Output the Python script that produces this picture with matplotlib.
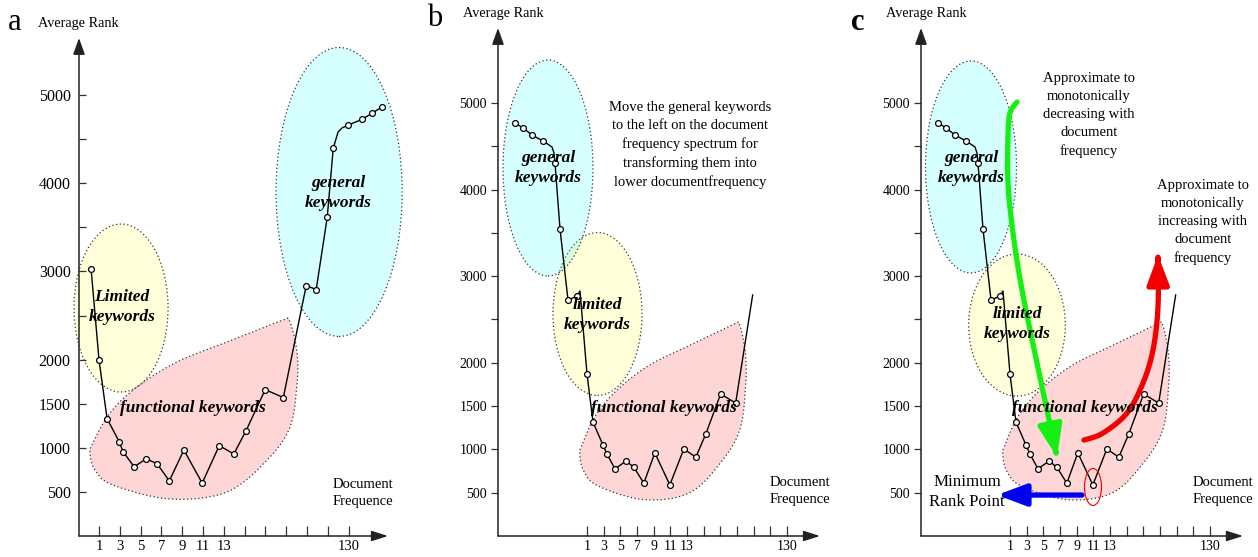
import matplotlib
matplotlib.use("Agg")
import matplotlib.pyplot as plt
import numpy as np
from matplotlib.patches import Ellipse, Polygon, FancyArrowPatch
from matplotlib.path import Path

plt.rcParams['font.family'] = ['Liberation Serif', 'DejaVu Serif']

# axis ticks
ytick_vals = [500, 1000, 1500, 2000, 2500, 3000, 3500, 4000, 4500, 5000]
ytick_labels = ['500', '1000', '1500', '2000', '', '3000', '', '4000', '', '5000']
xtick_pos = list(range(1, 14))
xtick_labels = ['1', '3', '5', '7', '9', '11', '13', '', '', '', '', '', '130']

# panel a: original curve (position on the frequency axis, average rank, marker?)
a_pos = [0.62, 1.0, 1.39, 1.97, 2.16, 2.69, 3.27, 3.79, 4.38, 5.08, 5.96, 6.78, 7.48,
         8.07, 8.99, 9.86, 10.96, 11.44, 11.97, 12.26, 12.49, 12.68, 12.98, 13.65, 14.13, 14.6]
a_rank = [3030, 2000, 1330, 1070, 955, 785, 875, 820, 625, 975, 600, 1025, 930,
          1195, 1660, 1570, 2840, 2795, 3615, 4400, 4580, 4627, 4660, 4725, 4795, 4865]
a_mark = [1, 1, 1, 1, 1, 1, 1, 1, 1, 1, 1, 1, 1,
          1, 1, 1, 1, 1, 1, 1, 0, 0, 1, 1, 1, 1]

# panels b and c: general keywords moved to the left
b_pos = [-3.31, -2.83, -2.29, -1.63, -1.10, -0.98, -0.92, -0.62, -0.14, 0.40, 0.58, 1.0, 1.36,
         1.96, 2.2, 2.68, 3.34, 3.81, 4.41, 5.07, 5.97, 6.81, 7.53, 8.13, 9.02, 9.92, 10.94]
b_rank = [4770, 4710, 4630, 4560, 4492, 4422, 4305, 3545, 2725, 2770, 2829, 1870, 1315,
          1050, 945, 775, 865, 795, 610, 960, 590, 1005, 910, 1180, 1640, 1535, 2783]
b_mark = [1, 1, 1, 1, 0, 0, 1, 1, 1, 1, 0, 1, 1,
          1, 1, 1, 1, 1, 1, 1, 1, 1, 1, 1, 1, 1, 0]

W, H = 1258, 557
fig = plt.figure(figsize=(W / 100, H / 100), dpi=100)


def catmull(xs, ys, n=14):
    p = np.column_stack([xs, ys]).astype(float)
    p = np.vstack([p[0], p, p[-1]])
    out = []
    t = np.linspace(0, 1, n, endpoint=False)[:, None]
    for i in range(1, len(p) - 2):
        p0, p1, p2, p3 = p[i - 1], p[i], p[i + 1], p[i + 2]
        out.append(0.5 * (2 * p1 + (p2 - p0) * t + (2 * p0 - 5 * p1 + 4 * p2 - p3) * t ** 2
                          + (3 * p1 - p0 - 3 * p2 + p3) * t ** 3))
    out.append(p[-2][None])
    return np.vstack(out)


def ftext(px, py, s, **kw):
    kw.setdefault('ha', 'center')
    kw.setdefault('va', 'center')
    fig.text(px / W, 1 - py / H, s, **kw)


def make_axes(left, right, top, bottom, xlim, ylim, ydir, ysize, xsize):
    ax = fig.add_axes([left / W, 1 - bottom / H, (right - left) / W, (bottom - top) / H])
    ax.set_xlim(*xlim)
    ax.set_ylim(*ylim)
    ax.set_facecolor('none')
    for s in ax.spines.values():
        s.set_visible(False)
    ax.set_yticks(ytick_vals)
    ax.set_yticklabels(ytick_labels, fontsize=ysize)
    ax.set_xticks(xtick_pos)
    ax.set_xticklabels(xtick_labels, fontsize=xsize)
    ax.tick_params(axis='y', direction=ydir, length=5, width=0.9, color='#333333',
                   pad=6 if ydir == 'in' else 3)
    ax.tick_params(axis='x', direction='in', length=7, width=0.9, color='#333333', pad=3)
    ax.annotate('', xy=(0, 1), xycoords='axes fraction', xytext=(0, 0),
                textcoords='axes fraction',
                arrowprops=dict(arrowstyle='-|>,head_length=1.0,head_width=0.36',
                                mutation_scale=10, color='#222222', lw=1.1,
                                shrinkA=0, shrinkB=0))
    ax.annotate('', xy=(1, 0), xycoords='axes fraction', xytext=(0, 0),
                textcoords='axes fraction',
                arrowprops=dict(arrowstyle='-|>,head_length=1.0,head_width=0.32',
                                mutation_scale=10, color='#222222', lw=1.1,
                                shrinkA=0, shrinkB=0))
    return ax


def regions(ax, yellow, cyan):
    dots = dict(edgecolor='#333333', lw=0.9, linestyle=(0, (1, 2)), clip_on=False)
    # functional keywords: leaf shape with the tip to the upper right
    leaf = catmull([10.09, 7.15, 4.75, 2.83, 1.53, 0.71, 0.57, 0.81, 1.67, 4.41, 7.15,
                    9.08, 10.18, 10.52, 10.52, 10.28, 10.09],
                   [2472, 2200, 1973, 1690, 1395, 1055, 941, 748, 578, 420, 499,
                    862, 1236, 1735, 2075, 2359, 2472])
    ax.add_patch(Polygon(leaf, closed=True, facecolor=(1, 0, 0, 0.16), zorder=1, **dots))
    ax.add_patch(Ellipse(yellow[:2], yellow[2], yellow[3], facecolor=(1, 1, 0, 0.15),
                         zorder=1, **dots))
    ax.add_patch(Ellipse(cyan[:2], cyan[2], cyan[3], facecolor=(0, 1, 1, 0.16),
                         zorder=1, **dots))


def curve(ax, pos, rank, mark):
    ax.plot(pos, rank, color='black', lw=1.0, zorder=3, clip_on=False)
    mx = [p for p, m in zip(pos, mark) if m]
    my = [r for r, m in zip(rank, mark) if m]
    ax.plot(mx, my, 'o', ms=4.2, mfc='white', mec='black', mew=0.9, zorder=4, clip_on=False)


bi = dict(fontsize=12.5, fontweight='bold', fontstyle='italic', linespacing=1.4, zorder=5)
head = '-|>,head_length=0.8,head_width=0.3'

# ---------------- panel a ----------------
ax_a = make_axes(79, 388, 38, 536, (0.04, 14.89), (0, 5647), 'in', 11.5, 10.5)
regions(ax_a, (2.06, 2585, 4.52, 1905), (12.54, 3901, 6.06, 3277))
curve(ax_a, a_pos, a_rank, a_mark)
ftext(15, 22, 'a', fontsize=22)
ftext(78, 23, 'Average Rank', fontsize=10.3)
ftext(122, 307, 'Limited\nkeywords', **bi)
ftext(338, 193, 'general\nkeywords', **bi)
ftext(193, 408, 'functional keywords', **bi)
ftext(363, 493, 'Document\nFrequence', fontsize=10.5, linespacing=1.5)

# ---------------- panel b ----------------
ax_b = make_axes(498, 820, 28, 536, (-4.34, 14.98), (0, 5866), 'out', 10, 10)
regions(ax_b, (1.63, 2563, 5.34, 1882), (-1.34, 4249, 5.4, 2494))
curve(ax_b, b_pos, b_rank, b_mark)
ftext(435, 18, 'b', fontsize=22)
ftext(503, 13, 'Average Rank', fontsize=10.3)
ftext(548, 168, 'general\nkeywords', **bi)
ftext(597, 315, 'limited\nkeywords', **bi)
ftext(664, 408, 'functional keywords', **bi)
ftext(690, 145, 'Move the general keywords\nto the left on the document\nfrequency spectrum for\n'
      'transforming them into\nlower documentfrequency', fontsize=10.5, linespacing=1.5)
ftext(800, 491, 'Document\nFrequence', fontsize=10.5, linespacing=1.5)

# ---------------- panel c ----------------
ax_c = make_axes(921, 1243, 28, 536, (-4.34, 14.98), (0, 5866), 'out', 10, 10)
regions(ax_c, (1.42, 2436, 5.8, 1640), (-1.34, 4261, 5.46, 2448))
curve(ax_c, b_pos, b_rank, b_mark)

green = catmull([1.42, 1.0, 0.88, 0.88, 1.18, 1.72, 2.62, 3.82],
                [5011, 4884, 4607, 4076, 3499, 2841, 1998, 912])
ax_c.add_patch(FancyArrowPatch(path=Path(green), arrowstyle=head, mutation_scale=24,
                               color='#14f014', lw=3.8, zorder=6, clip_on=False))
red = catmull([5.44, 6.58, 8.02, 8.98, 9.58, 9.88, 9.88],
              [1108, 1189, 1420, 1767, 2148, 2644, 3245])
ax_c.add_patch(FancyArrowPatch(path=Path(red), arrowstyle=head, mutation_scale=22,
                               color='#f20000', lw=3.8, zorder=6, clip_on=False))
ax_c.add_patch(FancyArrowPatch((5.32, 473), (0.22, 473), arrowstyle=head, mutation_scale=22,
                               color='#0000f0', lw=3.8, zorder=6,
                               shrinkA=0, shrinkB=0, clip_on=False))
ax_c.add_patch(Ellipse((5.98, 566), 1.02, 427, facecolor='none', edgecolor='#f00000',
                       lw=0.8, zorder=6, clip_on=False))

ftext(858, 22, 'c', fontsize=22, fontweight='bold')
ftext(926, 13, 'Average Rank', fontsize=10.3)
ftext(971, 168, 'general\nkeywords', **bi)
ftext(1017, 324, 'limited\nkeywords', **bi)
ftext(1085, 408, 'functional keywords', **bi)
ftext(1089, 115, 'Approximate to\nmonotonically\ndecreasing with\ndocument\nfrequency',
      fontsize=10.5, linespacing=1.5)
ftext(1203, 222, 'Approximate to\nmonotonically\nincreasing with\ndocument\nfrequency',
      fontsize=10.5, linespacing=1.5)
ftext(967, 492, 'Minimum\nRank Point', fontsize=12.2, linespacing=1.4)
ftext(1223, 491, 'Document\nFrequence', fontsize=10.5, linespacing=1.5)

fig.savefig('out.png', dpi=100)
